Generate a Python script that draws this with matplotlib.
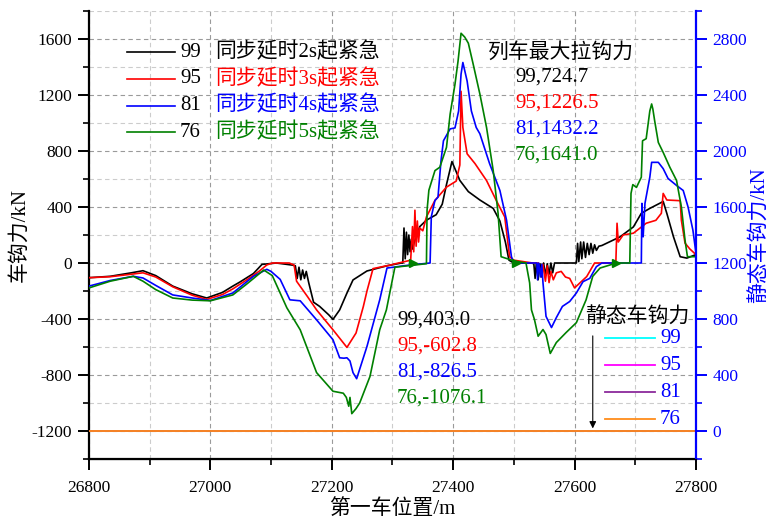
import matplotlib
matplotlib.use("Agg")
import matplotlib.pyplot as plt
from matplotlib.ticker import MultipleLocator

FONT = ["Liberation Serif", "Noto Sans CJK SC"]
plt.rcParams["font.family"] = FONT
plt.rcParams["axes.unicode_minus"] = False

# coupler force of car 99/95/81/76, left axis (kN)
x99 = [26800, 26835, 26870, 26889, 26910, 26938, 26970, 26994, 27020, 27037, 27049, 27071, 27085,
       27109, 27135, 27140, 27143, 27146, 27149, 27152, 27155, 27158, 27162, 27170, 27180, 27195,
       27202, 27213, 27225, 27235, 27258, 27291, 27315, 27317, 27319, 27321, 27323, 27325, 27327,
       27329, 27331, 27333, 27336, 27345, 27356, 27372, 27382, 27389, 27398, 27411, 27425, 27444,
       27466, 27477, 27486, 27492, 27500, 27531, 27533, 27535, 27537, 27540, 27543, 27546, 27549,
       27552, 27555, 27558, 27561, 27564, 27567, 27571, 27600, 27603, 27605, 27607, 27610, 27612,
       27615, 27618, 27621, 27624, 27627, 27630, 27633, 27636, 27640, 27645, 27675, 27697, 27710,
       27724, 27741, 27746, 27752, 27763, 27774, 27785, 27800]
y99 = [-105, -95, -70, -55, -90, -165, -220, -250, -210, -165, -135, -75, -10,
       0, -15, -20, -110, -30, -120, -50, -110, -60, -140, -280, -310, -370,
       -403.0, -335, -215, -121, -57, -20, 0, 0, 250, 30, 220, 60, 200,
       80, 170, 100, 150, 260, 306, 345, 420, 560, 724.7, 590, 510, 450,
       390, 300, 150, 20, 0, 0, -10, -110, 0, -120, -5, -100, 0,
       -90, -5, -80, 0, -70, 0, 0, 0, 0, 140, 10, 150, 30,
       150, 40, 140, 60, 140, 70, 130, 90, 120, 125, 187, 258, 355,
       390, 428, 440, 355, 187, 45, 35, 60]

x95 = [26800, 26835, 26870, 26889, 26910, 26938, 26970, 26994, 27020, 27037, 27060, 27080, 27093,
       27102, 27130, 27138, 27142, 27160, 27175, 27202, 27225, 27240, 27252, 27258, 27268, 27296,
       27310, 27330, 27333, 27335, 27337, 27339, 27341, 27343, 27345, 27350, 27356, 27370, 27389,
       27405, 27411, 27413, 27416, 27423, 27436, 27455, 27471, 27485, 27493, 27500, 27531, 27540,
       27545, 27548, 27552, 27555, 27558, 27561, 27565, 27570, 27578, 27585, 27592, 27600, 27620,
       27633, 27668, 27670, 27672, 27680, 27697, 27718, 27734, 27743, 27746, 27752, 27774, 27776,
       27782, 27790, 27800]
y95 = [-105, -98, -80, -70, -100, -170, -230, -260, -225, -185, -120, -60, -14,
       0, 0, -15, -130, -240, -335, -477, -602.8, -500, -311, -200, -40, -15,
       0, 20, 260, 80, 377, 120, 300, 150, 250, 230, 330, 447, 542,
       585, 700, 1226.5, 968, 780, 710, 589, 447, 329, 45, 20, 0, 0,
       -80, -10, -130, -20, -140, -60, -120, -70, -60, -100, -110, -178, -97,
       0, 0, 284, 150, 200, 213, 284, 305, 355, 497, 450, 445, 305,
       142, 100, 60]

x81 = [26800, 26835, 26873, 26889, 26910, 26938, 26970, 27000, 27037, 27071, 27093, 27100, 27115,
       27131, 27148, 27175, 27202, 27213, 27220, 27225, 27230, 27235, 27241, 27258, 27279, 27291,
       27329, 27362, 27364, 27370, 27375, 27380, 27384, 27395, 27403, 27409, 27413, 27416, 27423,
       27430, 27438, 27444, 27460, 27477, 27488, 27496, 27500, 27538, 27539, 27541, 27544, 27546,
       27548, 27553, 27562, 27570, 27580, 27592, 27603, 27614, 27625, 27636, 27645, 27710, 27711,
       27713, 27716, 27724, 27727, 27738, 27746, 27754, 27768, 27779, 27787, 27795, 27800]
y81 = [-165, -125, -95, -107, -160, -228, -250, -268, -214, -95, -45, -60, -117,
       -263, -270, -406, -548, -677, -680, -677, -700, -783, -826.5, -596, -263, -36,
       -14, 0, 330, 447, 470, 731, 873, 958, 965, 1086, 1349, 1432.2, 1300,
       1086, 968, 923, 710, 518, 305, 45, 0, 0, -120, 0, -100, -10,
       -142, -381, -461, -390, -310, -275, -214, -133, -110, -26, 0, 0, 426,
       187, 426, 613, 719, 719, 674, 604, 554, 518, 400, 234, 71]

x76 = [26800, 26835, 26873, 26889, 26910, 26938, 26970, 27000, 27037, 27060, 27088, 27102, 27126,
       27148, 27175, 27202, 27219, 27224, 27228, 27230, 27233, 27240, 27246, 27263, 27279, 27290,
       27304, 27356, 27357, 27360, 27370, 27378, 27389, 27395, 27403, 27408, 27413, 27419, 27425,
       27433, 27444, 27455, 27466, 27474, 27479, 27500, 27520, 27526, 27529, 27534, 27540, 27548,
       27553, 27560, 27570, 27586, 27603, 27619, 27630, 27642, 27669, 27691, 27693, 27696, 27702,
       27710, 27712, 27718, 27724, 27727, 27729, 27732, 27738, 27746, 27757, 27768, 27776, 27782,
       27786, 27800]
y76 = [-178, -130, -95, -130, -190, -250, -265, -270, -228, -150, -50, -90, -320,
       -477, -783, -916, -930, -960, -1023, -960, -1076.1, -1040, -1000, -810, -477, -335,
       -30, -5, 377, 520, 660, 684, 826, 1063, 1277, 1440, 1641.0, 1614, 1570,
       1420, 1207, 968, 660, 355, 45, 15, 0, -142, -335, -405, -523, -475,
       -511, -646, -568, -497, -426, -263, -95, -36, 0, 0, 497, 560, 540,
       613, 873, 888, 1086, 1136, 1100, 1015, 861, 790, 684, 590, 400, 163,
       45, 45]

# small arrow glyphs sitting on the 76 curve
mark76_x = [27334, 27504, 27669]
mark76_y = [0, 0, 0]

cars = ["99", "95", "81", "76"]
delays = ["同步延时2s起紧急", "同步延时3s起紧急", "同步延时4s起紧急", "同步延时5s起紧急"]
colors = ["#000000", "#ff0000", "#0000ff", "#008000"]
max_labels = ["99,724.7", "95,1226.5", "81,1432.2", "76,1641.0"]
min_labels = ["99,403.0", "95,-602.8", "81,-826.5", "76,-1076.1"]

# static coupler force, right axis (kN)
static_x = [26800, 27800]
static_force = {"99": [0, 0], "95": [0, 0], "81": [0, 0], "76": [0, 0]}
static_colors = ["#00ffff", "#ff00ff", "#8b2a9b", "#ff8c1a"]

fig = plt.figure(figsize=(7.75, 5.19), dpi=100)
ax = fig.add_axes([0.1148, 0.1156, 0.7832, 0.8632])
ax2 = ax.twinx()

series = [(x99, y99), (x95, y95), (x81, y81), (x76, y76)]
for (xs, ys), c in zip(series, colors):
    ax.plot(xs, ys, color=c, lw=1.2, zorder=3)
ax.plot(mark76_x, mark76_y, ">", color="#008000", ms=6, zorder=4)

for (name, vals), c in zip(static_force.items(), static_colors):
    ax2.plot(static_x, vals, color=c, lw=1.3)

ax.set_xlim(26800, 27800)
ax.set_ylim(-1400, 1800)
ax2.set_ylim(-200, 3000)

ax.xaxis.set_major_locator(MultipleLocator(200))
ax.xaxis.set_minor_locator(MultipleLocator(100))
ax.yaxis.set_major_locator(MultipleLocator(400))
ax.yaxis.set_minor_locator(MultipleLocator(200))
ax2.yaxis.set_major_locator(MultipleLocator(400))
ax2.yaxis.set_minor_locator(MultipleLocator(200))
ax2.set_yticks(range(0, 2801, 400))

ax.set_axisbelow(True)
ax.grid(which="major", ls=(0, (4, 3)), color="#9a9a9a", lw=0.8)
ax.grid(which="minor", ls=(0, (4, 3)), color="#cccccc", lw=0.8)

for a in (ax, ax2):
    a.spines["top"].set_visible(False)
ax.spines["right"].set_visible(False)
ax2.spines["left"].set_visible(False)
ax.spines["left"].set_linewidth(1.6)
ax.spines["bottom"].set_linewidth(1.6)
ax2.spines["right"].set_linewidth(1.6)
ax2.spines["right"].set_color("#0000ff")

ax.tick_params(which="major", direction="out", length=8, width=1.4, labelsize=12.5, pad=4)
ax.tick_params(which="minor", direction="out", length=4.5, width=1.2)
ax.tick_params(axis="x", which="major", pad=7)
ax2.tick_params(which="major", direction="out", length=8, width=1.4, labelsize=12.5,
                colors="#0000ff", pad=4)
ax2.tick_params(which="minor", direction="out", length=4.5, width=1.2, colors="#0000ff")

ax.set_xlabel("第一车位置/m", fontsize=15, labelpad=2)
ax.set_ylabel("车钩力/kN", fontsize=15, labelpad=2)
ax2.set_ylabel("静态车钩力/kN", fontsize=15, color="#0000ff", labelpad=2)

# legend for the four delay cases
for i, (car, txt, c) in enumerate(zip(cars, delays, colors)):
    yy = 0.908 - i * 0.0595
    ax.plot([0.0626, 0.1417], [yy, yy], color=c, lw=1.2, transform=ax.transAxes, zorder=5)
    ax.text(0.150, yy, car, color="black", fontsize=15, va="center", transform=ax.transAxes)
    ax.text(0.2076, yy, txt, color=c, fontsize=15, va="center", transform=ax.transAxes)

# extreme values
ax.text(0.7776, 0.906, "列车最大拉钩力", fontsize=15, ha="center", va="center",
        transform=ax.transAxes)
for i, (lab, c) in enumerate(zip(max_labels, colors)):
    ax.text(0.702, 0.8527 - i * 0.058, lab, color=c, fontsize=15, va="center",
            transform=ax.transAxes)
for i, (lab, c) in enumerate(zip(min_labels, colors)):
    ax.text(0.5074, 0.3103 - i * 0.058, lab, color=c, fontsize=15, va="center",
            transform=ax.transAxes)

# static force legend with arrow to the line
ax.text(0.817, 0.3147, "静态车钩力", fontsize=15, va="center", transform=ax.transAxes)
for i, (car, c) in enumerate(zip(cars, static_colors)):
    yy = 0.270 - i * 0.0603
    ax.plot([0.850, 0.9325], [yy, yy], color=c, lw=1.3, transform=ax.transAxes, zorder=5)
    ax.text(0.9407, yy, car, color="#0000ff", fontsize=15, va="center", transform=ax.transAxes)
ax.annotate("", xy=(0.830, 0.062), xytext=(0.830, 0.281), xycoords="axes fraction",
            arrowprops=dict(arrowstyle="-|>", color="black", lw=0.8, mutation_scale=10))

fig.savefig("out.png", dpi=100)
